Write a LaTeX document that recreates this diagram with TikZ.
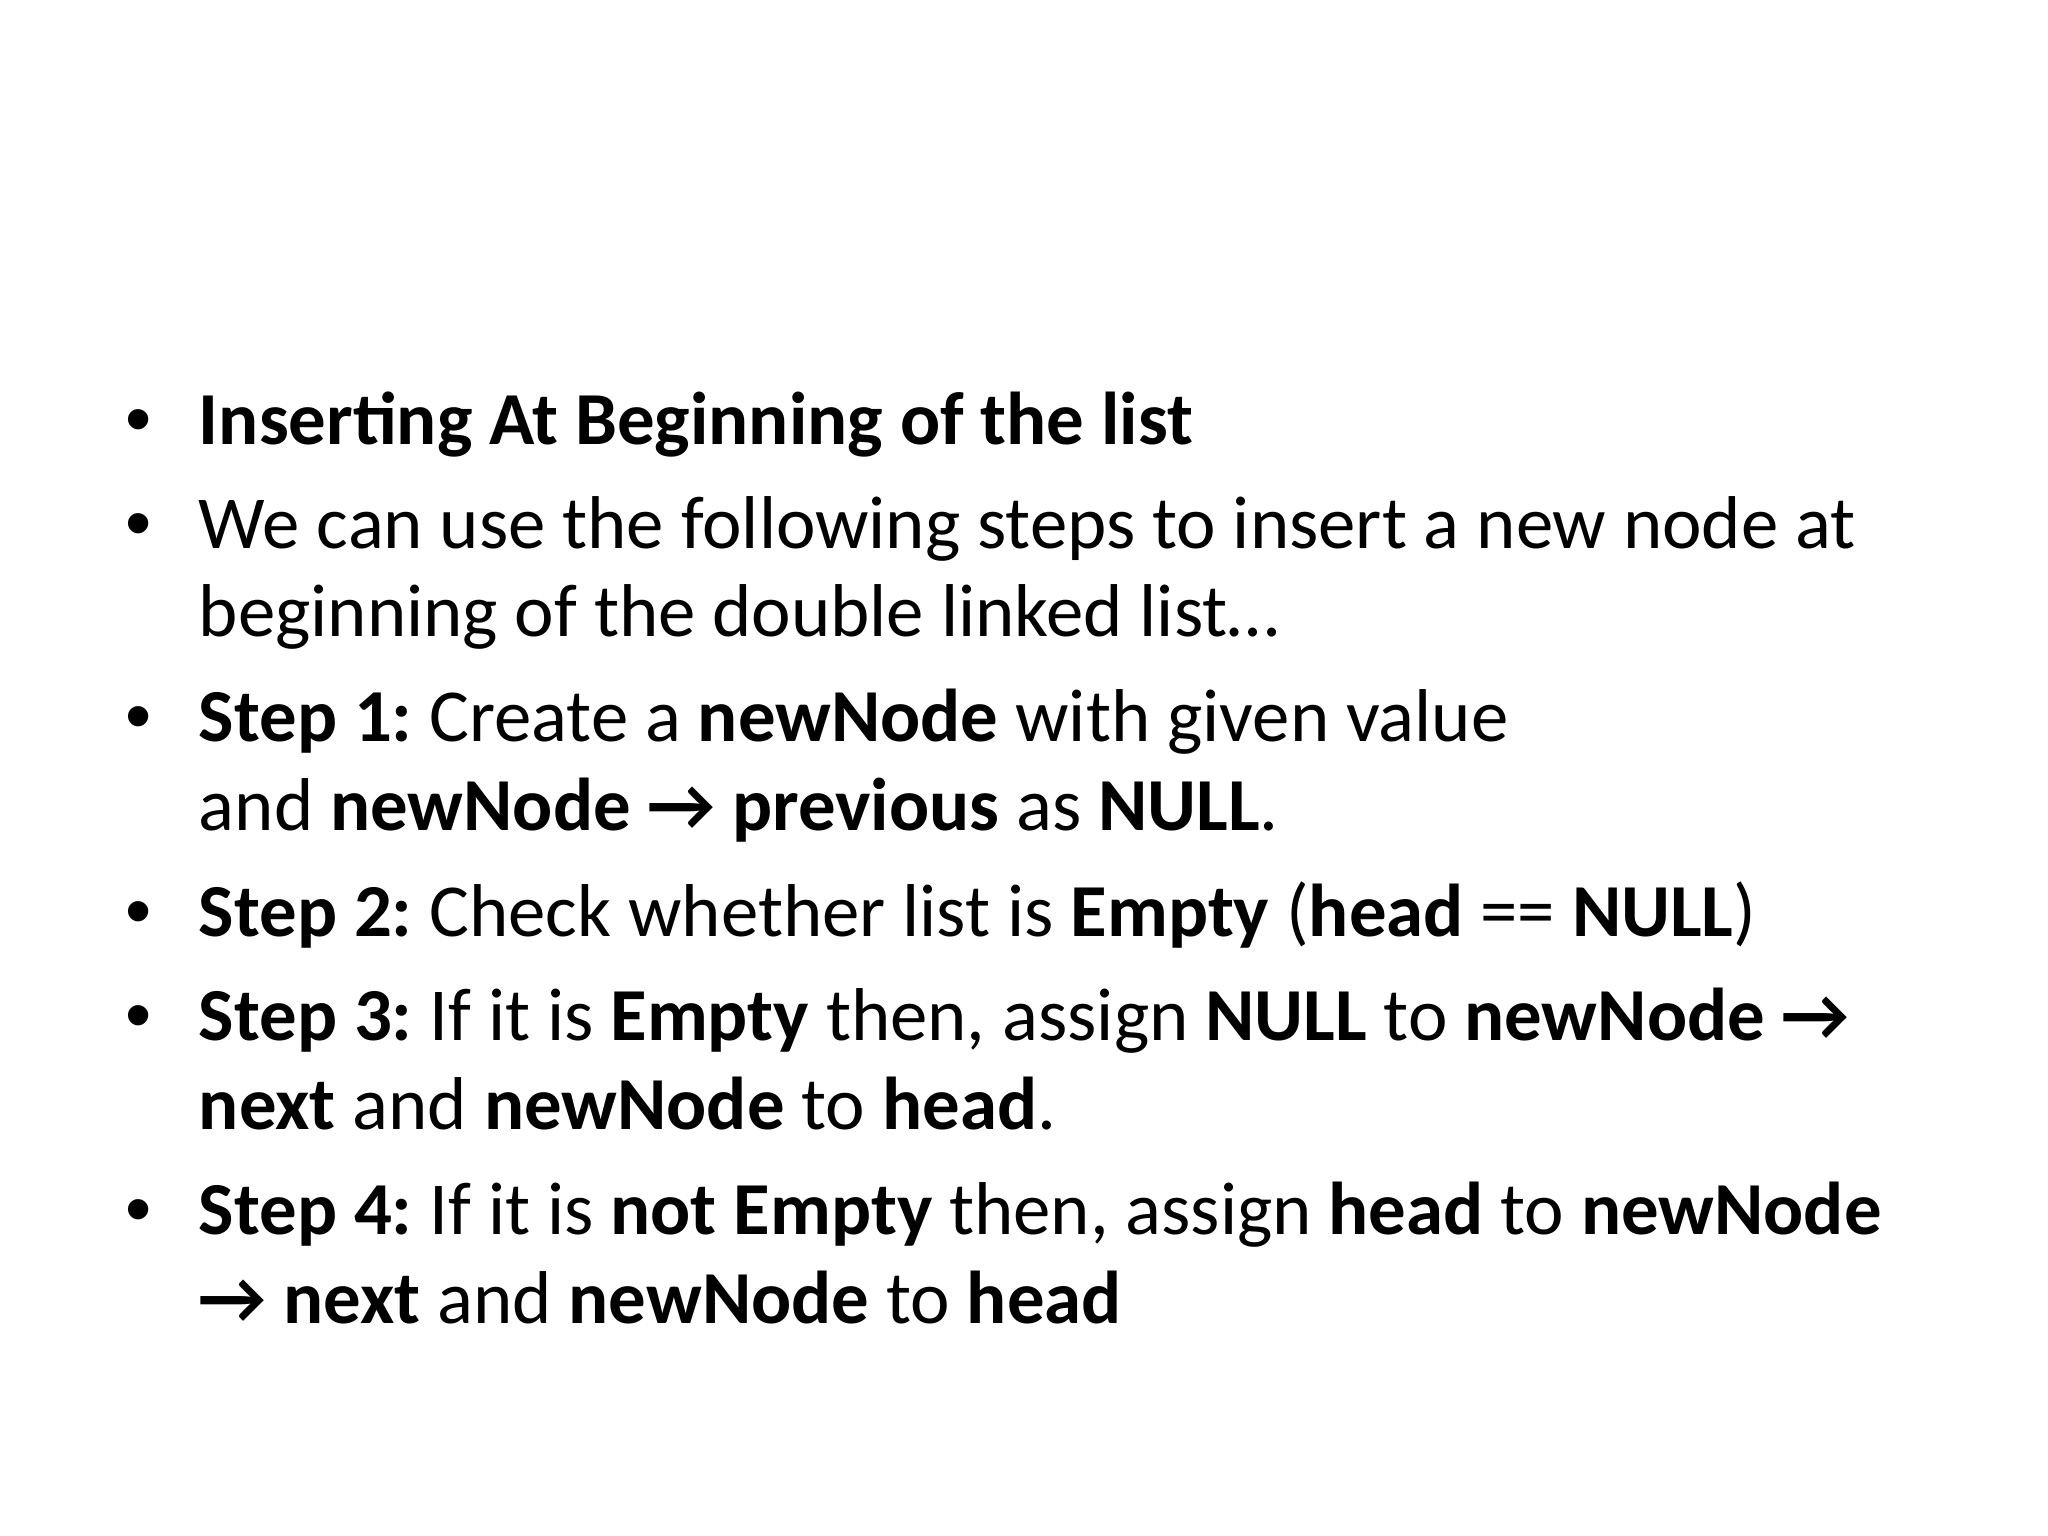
\documentclass[tikz,border=0pt]{standalone}
\usepackage{fontspec}
\setmainfont{Carlito}
\newfontfamily\bulletfont{Liberation Sans}
\frenchspacing
\tikzset{
	textline/.style={anchor=base west, inner sep=0pt, font=\fontsize{26.4}{32}\selectfont},
	bulletmark/.style={anchor=base west, inner sep=0pt, font=\bulletfont\fontsize{26.4}{32}\selectfont}
}
\begin{document}
\begin{tikzpicture}
	\useasboundingbox[fill=white] (0, 0) rectangle (25.4, -19.05);

	\node[bulletmark] (b1) at (1.55, -5.51) {•};
	\node[bulletmark] (b2) at (1.55, -6.80) {•};
	\node[bulletmark] (b3) at (1.55, -9.20) {•};
	\node[bulletmark] (b4) at (1.55, -11.62) {•};
	\node[bulletmark] (b5) at (1.55, -12.91) {•};
	\node[bulletmark] (b6) at (1.55, -15.31) {•};

	\node[textline] (l1) at (2.46, -5.51) {\textbf{Inserting At Beginning of the list}};
	\node[textline] (l2) at (2.46, -6.80) {We can use the following steps to insert a new node at};
	\node[textline] (l3) at (2.46, -7.89) {beginning of the double linked list…};
	\node[textline] (l4) at (2.46, -9.20) {\textbf{Step 1:} Create a \textbf{newNode} with given value};
	\node[textline] (l5) at (2.46, -10.30) {and \textbf{newNode → previous} as \textbf{NULL}.};
	\node[textline] (l6) at (2.46, -11.62) {\textbf{Step 2:} Check whether list is \textbf{Empty} (\textbf{head} == \textbf{NULL})};
	\node[textline] (l7) at (2.46, -12.91) {\textbf{Step 3:} If it is \textbf{Empty} then, assign \textbf{NULL} to \textbf{newNode →}};
	\node[textline] (l8) at (2.46, -14.01) {\textbf{next} and \textbf{newNode} to \textbf{head}.};
	\node[textline] (l9) at (2.46, -15.31) {\textbf{Step 4:} If it is \textbf{not Empty} then, assign \textbf{head} to \textbf{newNode}};
	\node[textline] (l10) at (2.46, -16.41) {\textbf{→ next} and \textbf{newNode} to \textbf{head}};
\end{tikzpicture}
\end{document}
